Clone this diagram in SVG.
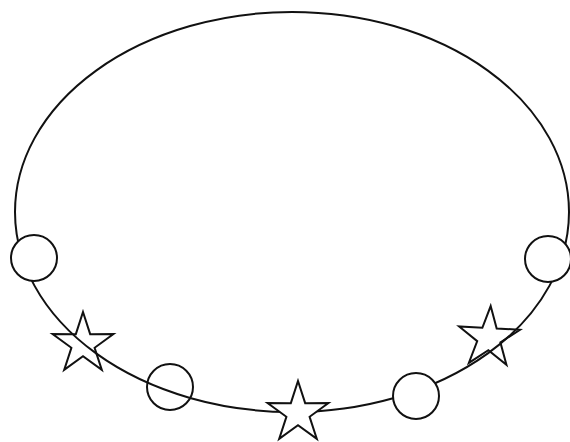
<svg xmlns="http://www.w3.org/2000/svg" xmlns:xlink="http://www.w3.org/1999/xlink" width="570" height="442" viewBox="0 0 570 442">
<style>
.ln{stroke:#111;stroke-width:2;fill:none}
.w{fill:#fff}
</style>
<defs>
<polygon id="star" points="0,-32 7.17,-9.87 30.43,-9.89 11.6,3.77 18.81,25.89 0,12.2 -18.81,25.89 -11.6,3.77 -30.43,-9.89 -7.17,-9.87"/>
</defs>
<rect width="570" height="442" fill="#fff"/>
<g id="ring"><ellipse class="ln" cx="292" cy="212" rx="277" ry="200"/></g>
<g id="circle-left"><circle class="ln w" cx="34" cy="258" r="23"/></g>
<g id="circle-right"><circle class="ln w" cx="548" cy="259" r="23"/></g>
<g id="circle-bottom-left"><circle class="ln" cx="170" cy="387" r="23"/></g>
<g id="circle-bottom-right"><circle class="ln w" cx="416" cy="396" r="23"/></g>
<g id="star-left"><use xlink:href="#star" href="#star" class="ln" transform="translate(83,344)"/></g>
<g id="star-bottom"><use xlink:href="#star" href="#star" class="ln w" transform="translate(298,413)"/></g>
<g id="star-right"><use xlink:href="#star" href="#star" class="ln" transform="translate(489,338) rotate(3)"/></g>
</svg>
